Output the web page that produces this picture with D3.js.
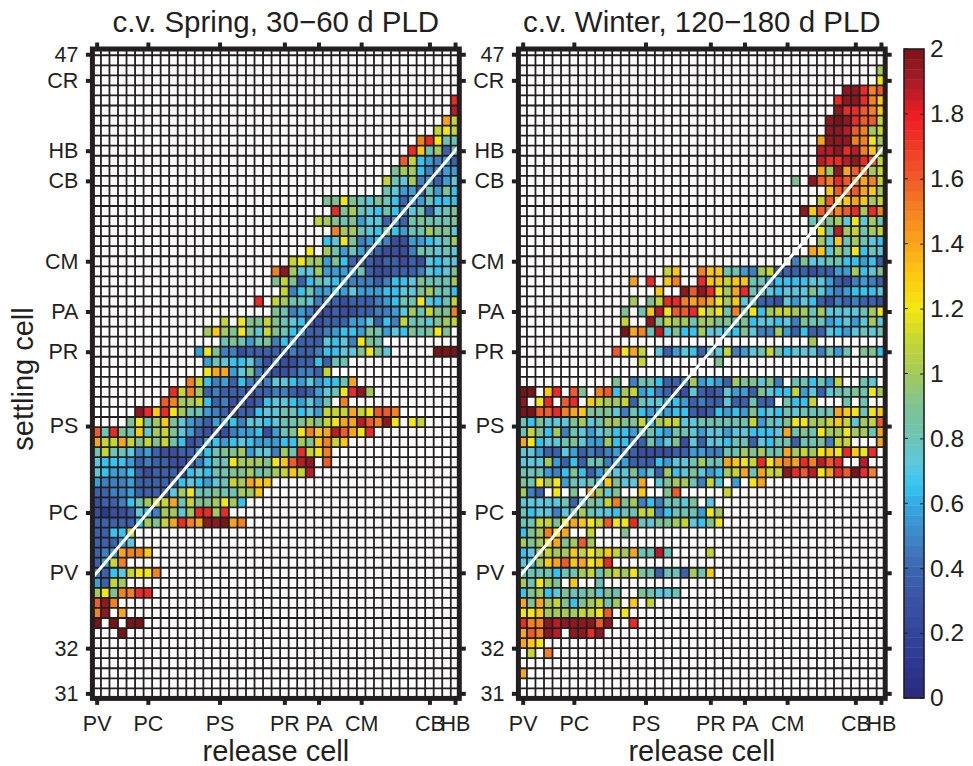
<!DOCTYPE html>
<html>
<head>
<meta charset="utf-8">
<script src="https://cdn.jsdelivr.net/npm/d3@7/dist/d3.min.js"></script>
<style>
  html, body { margin: 0; padding: 0; background: #fff; }
  svg { display: block; }
  text { font-family: "Liberation Sans", Arial, sans-serif; fill: #231f20; }
</style>
</head>
<body>
<div class="d3"></div>
<script>
// each row is "<first release cell> <codes>", '.' means no value, rows run top to bottom
const springRows = [
  "", "", "", "", "",
  "42 h",
  "42 i",
  "41 eb",
  "40 bcb",
  "38 fhc88",
  "37 hd8a38",
  "36 gb65453",
  "35 9aa64455",
  "34 b87a45357",
  "34 875538596",
  "27 99c9879863558666",
  "28 h9a876864783789",
  "26 ba989577353898889",
  "28 faa87696588a997",
  "27 67c945642255678a",
  "25 c.a858543222488787",
  "23 bcaa5963332332327677",
  "21 fja77a5555832233347679",
  "21 9b9368765444346679888a",
  "22 b4685565755566779a886",
  "19 h.ba887443233345688c768b",
  "21 9845422322334457a8b99f",
  "15 b.c99b987632333557364b8879ab",
  "13 ada9c97b9865334566598576989c9",
  "15 8985894653337674c98",
  "12 5c944233333433466779c97.....kkk",
  "13 58766742422336388",
  "13 cee57943223443b",
  "11 fb64536444776575668e",
  "9 hbfa3433323344323578chja",
  "8 gfaab634232367765758.f",
  "5 jhdhca8854323367788675bbbebcggf",
  "4 9c8ad9754355647767889a9bceeigfjc.cb",
  "0 g8h98d7ab975323245562589cfdeigech",
  "0 ebbeb9b9b862356567655566a9dfbd",
  "0 8b887453223356899a5774a8hbcf",
  "0 7666534332234688caaa9cdgij.g",
  "0 765563233326768899a89abdbi",
  "0 5444533333676578baedd",
  "0 3344533337ac88988aad",
  "0 233468abbe8b99aca6",
  "0 21223764aa7ahhah",
  "0 333336a9behfejjkef",
  "0 3366b",
  "0 33357",
  "0 345effd",
  "0 35bf",
  "0 4367bccf",
  "0 53ba",
  "0 ac9ffhh",
  "0 gjf",
  "0 fj.e",
  "0 k.k.kk",
  "0 ...k",
  "", "", "", "", "", ""
];

const winterRows = [
  "", "",
  "42 a",
  "42 c",
  "38 jjhfg",
  "37 hjjhfd",
  "37 jhhgfd",
  "36 jkjhggb",
  "36 jjigfab",
  "35 ejjjffca",
  "35 iijhifda",
  "35 ihhijhgb",
  "35 eajegfab",
  "32 9.jgfhgfefb",
  "36 dgfgeda",
  "35 bgcdedab",
  "33 jdgffghahf",
  "34 899a7c7a8",
  "35 c8iab8ab",
  "35 a7d8a876",
  "34 ed7a8c687",
  "32 49778866563",
  "17 bd..fdd8854ab333323355a679",
  "13 e.h.df..hddbdd8856666775324543",
  "16 d..jgjhcaeh8876777975456667",
  "13 a.9bhhfefecad78332757632434332",
  "12 9.8dicgghcbc8f8c6abbaa8a77778ac",
  "12 b..j9baa8aa998967767498856757a7",
  "12 kef8i7966a77669744a536337657878",
  "34 a",
  "11 gceb.73576377b4578b867774858.996",
  "14 b........9",
  "",
  "11 9.4886334a5653a99794.88685b..87",
  "0 kk.dh.g9.fg6ab564332732375539766b57378898ca",
  "0 j.ch.gh.dbaab38775653433733833.866b...8.8..",
  "0 kkgghfed99974865656632365659676878888edc8cd",
  "0 8697779a78aa99b6abb77888888b5879ccaabdb7abg",
  "0 8b96a48757866588658875775776667e898caacaa8e",
  "0 ec67789755a66438579273776883768838894bb...e",
  "0 77533753434543222233554488a9a88eabacdchdch.",
  "0 777a53638845533365778a88edcbhcefehfigh..i..",
  "0 88854696359779573a679756abe8ebbjhgicehgkhf.",
  "0 98cac58787d977e.79aa84b7.5.ce",
  "0 a43.c.9.ea79..d..9g.....b",
  "0 7777783798bf9a4648879.7",
  "0 8677478a877688bb468885ca",
  "0 88bb9cedcbgcch8799ab769c",
  "0 69afce..b...9",
  "0 a9ace9aga",
  "0 67abaadbcbdbae88i8....b",
  "0 76adegdecdh",
  "0 8888688ab8abac983883a8d",
  "0 a8ca9.d..8",
  "0 69a679889798..98778",
  "0 e9eab969ab8a.d.b",
  "0 ccdaaaabbcg.c",
  "0 hffjijjjjgj..h",
  "0 egfji.jjhj",
  "0 edc",
  "0 .b.f",
  "",
  "0 e",
  "", ""
];

// what the row codes stand for on the colour bar
const levelCodes = "123456789abcdefghijk".split("");
const levelValues = [0.12, 0.28, 0.38, 0.48, 0.57, 0.65, 0.72, 0.8, 0.9, 1, 1.1, 1.2, 1.3, 1.4, 1.5, 1.6, 1.75, 1.87, 1.95, 2];

const releaseTicks = [0, 6, 14.4, 22, 26, 31, 39, 42];
const releaseLabels = ["PV", "PC", "PS", "PR", "PA", "CM", "CB", "HB"];
const settleTicks = [0.4, 3, 10, 13, 21, 26, 30, 37.4, 46, 52, 59.5, 64];
const settleLabels = ["47", "CR", "HB", "CB", "CM", "PA", "PR", "PS", "PC", "PV", "32", "31"];
const diagonal = [[-0.5, 52.5], [42.5, 9.5]];

const colorStops = [0, 0.1, 0.2, 0.3, 0.4, 0.5, 0.6, 0.65, 0.72, 0.8, 0.9, 1, 1.1, 1.2, 1.3, 1.4, 1.5, 1.6, 1.75, 1.8, 1.9, 2];
const colorList = ["#2a2a7a", "#2c3790", "#33459b", "#3a52a3", "#3b66b0", "#3f88c8", "#35a9e0", "#32c5f3", "#5cc8de", "#6cc4b4", "#7fc394", "#a3ca5b", "#c5d632", "#f2e713", "#fdc90f", "#faa61a", "#f5821f", "#f15a29", "#ee2a26", "#ed1c24", "#a81c28", "#7a1416"];
const barTicks = [0, 0.2, 0.4, 0.6, 0.8, 1, 1.2, 1.4, 1.6, 1.8, 2];

const ink = "#231f20";
const width = 973;
const height = 766;
const nCols = 43;
const nRows = 65;
const frameTop = 49;
const frameBottom = 698.4;

const color = d3.scaleLinear().domain(colorStops).range(colorList).clamp(true);

function parseRows(rows) {
  const cells = [];
  rows.forEach((row, r) => {
    if (!row) return;
    const parts = row.split(" ");
    const start = +parts[0];
    parts[1].split("").forEach((code, i) => {
      if (code === ".") return;
      cells.push({ col: start + i, row: r, value: levelValues[levelCodes.indexOf(code)] });
    });
  });
  return cells;
}

const svg = d3.select(".d3").append("svg").attr("width", width).attr("height", height);

function drawPanel(id, rows, left, right, title) {
  const x = d3.scaleLinear().domain([-0.5, nCols - 0.5]).range([left, right]);
  const y = d3.scaleLinear().domain([-0.5, nRows - 0.5]).range([45.2, frameBottom]);

  svg.append("clipPath").attr("id", id)
    .append("rect")
    .attr("x", left).attr("y", frameTop)
    .attr("width", right - left).attr("height", frameBottom - frameTop);

  const g = svg.append("g");
  const inner = g.append("g").attr("clip-path", `url(#${id})`);

  inner.selectAll("rect.cell")
    .data(parseRows(rows))
    .enter()
    .append("rect")
    .attr("class", "cell")
    .attr("x", d => x(d.col - 0.5))
    .attr("y", d => y(d.row - 0.5))
    .attr("width", x(1) - x(0))
    .attr("height", y(1) - y(0))
    .attr("fill", d => color(d.value));

  inner.selectAll("line.v")
    .data(d3.range(nCols + 1))
    .enter()
    .append("line")
    .attr("class", "v")
    .attr("x1", d => x(d - 0.5)).attr("x2", d => x(d - 0.5))
    .attr("y1", frameTop).attr("y2", frameBottom)
    .attr("stroke", ink).attr("stroke-width", 1.8);

  inner.selectAll("line.h")
    .data(d3.range(nRows + 1))
    .enter()
    .append("line")
    .attr("class", "h")
    .attr("x1", left).attr("x2", right)
    .attr("y1", d => y(d - 0.5)).attr("y2", d => y(d - 0.5))
    .attr("stroke", ink).attr("stroke-width", 1.8);

  g.append("path")
    .attr("d", d3.line().x(d => x(d[0])).y(d => y(d[1]))(diagonal))
    .attr("fill", "none")
    .attr("stroke", "#fff")
    .attr("stroke-width", 3);

  g.append("rect")
    .attr("x", left).attr("y", frameTop)
    .attr("width", right - left).attr("height", frameBottom - frameTop)
    .attr("fill", "none")
    .attr("stroke", ink)
    .attr("stroke-width", 5);

  const bottom = d3.axisBottom(x).tickValues(releaseTicks)
    .tickFormat((d, i) => releaseLabels[i]).tickSize(6.5).tickPadding(10.5);
  const top = d3.axisTop(x).tickValues(releaseTicks).tickFormat("").tickSize(6.5);
  const leftAxis = d3.axisLeft(y).tickValues(settleTicks)
    .tickFormat((d, i) => settleLabels[i]).tickSize(6.5).tickPadding(7.5);
  const rightAxis = d3.axisRight(y).tickValues(settleTicks).tickFormat("").tickSize(6.5);

  [
    [bottom, 0, frameBottom],
    [top, 0, frameTop],
    [leftAxis, left, 0],
    [rightAxis, right, 0]
  ].forEach(a => {
    const axis = g.append("g").attr("transform", `translate(${a[1]},${a[2]})`).call(a[0]);
    axis.select(".domain").remove();
    axis.selectAll(".tick line").attr("stroke", ink).attr("stroke-width", 4);
    axis.selectAll(".tick text").attr("font-size", 21.5).attr("font-family", '"Liberation Sans", Arial, sans-serif').attr("fill", ink);
  });

  g.append("text")
    .attr("x", (left + right) / 2)
    .attr("y", 32)
    .attr("text-anchor", "middle")
    .attr("font-size", 29.5)
    .text(title);

  g.append("text")
    .attr("x", (left + right) / 2)
    .attr("y", 761)
    .attr("text-anchor", "middle")
    .attr("font-size", 29)
    .text("release cell");
}

drawPanel("clipSpring", springRows, 92.4, 459.3, "c.v. Spring, 30\u221260 d PLD");
drawPanel("clipWinter", winterRows, 518.4, 885.2, "c.v. Winter, 120\u2212180 d PLD");

svg.append("text")
  .attr("transform", "translate(33,379) rotate(-90)")
  .attr("text-anchor", "middle")
  .attr("font-size", 29)
  .text("settling cell");

// colour bar, 64 steps like the original colormap
const barLeft = 904;
const barRight = 924;
const barY = d3.scaleLinear().domain([0, 2]).range([698, 49]);
const bar = svg.append("g");

bar.selectAll("rect")
  .data(d3.range(64))
  .enter()
  .append("rect")
  .attr("x", barLeft)
  .attr("width", barRight - barLeft)
  .attr("y", d => barY((d + 1) / 32))
  .attr("height", barY(0) - barY(1 / 32) + 0.4)
  .attr("fill", d => color((d + 0.5) / 32));

bar.append("rect")
  .attr("x", barLeft).attr("y", barY(2))
  .attr("width", barRight - barLeft).attr("height", barY(0) - barY(2))
  .attr("fill", "none").attr("stroke", ink).attr("stroke-width", 1.6);

const barAxis = bar.append("g")
  .attr("transform", `translate(${barRight},0)`)
  .call(d3.axisRight(barY).tickValues(barTicks).tickFormat(d => d).tickSize(-4).tickPadding(6));
barAxis.select(".domain").remove();
barAxis.selectAll(".tick line").attr("stroke", ink).attr("stroke-width", 1);
barAxis.selectAll(".tick text").attr("font-size", 24.5).attr("font-family", '"Liberation Sans", Arial, sans-serif').attr("fill", ink);

bar.selectAll("line.inner")
  .data(barTicks)
  .enter()
  .append("line")
  .attr("class", "inner")
  .attr("x1", barLeft).attr("x2", barLeft + 4)
  .attr("y1", d => barY(d)).attr("y2", d => barY(d))
  .attr("stroke", ink).attr("stroke-width", 1);
</script>
</body>
</html>
